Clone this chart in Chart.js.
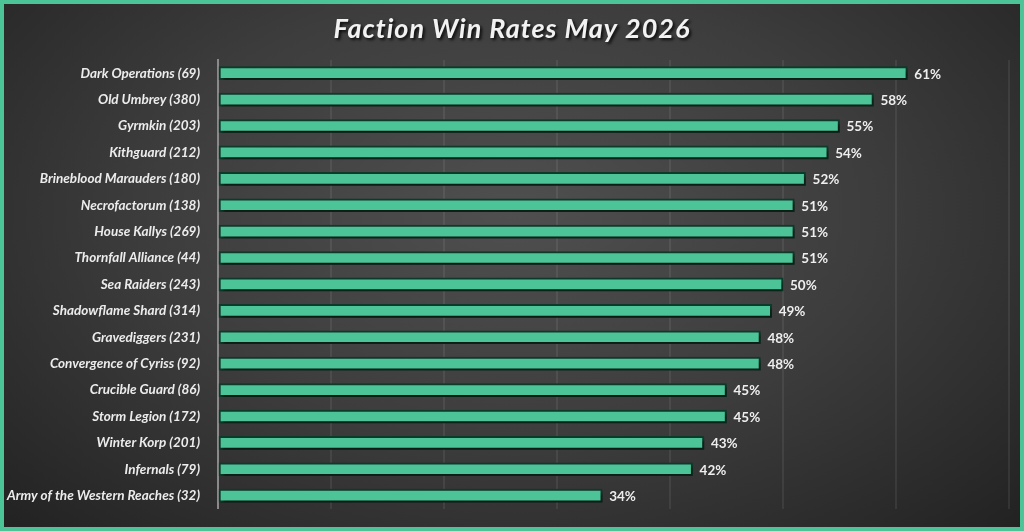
<!DOCTYPE html>
<html>
<head>
<meta charset="utf-8">
<script src="https://cdn.jsdelivr.net/npm/chart.js@4.4.1/dist/chart.umd.min.js"></script>
<style>
  html, body { margin: 0; padding: 0; }
  #wrap {
    width: 1024px; height: 531px; box-sizing: border-box;
    border: 4px solid #4cc497;
    background: radial-gradient(ellipse at 50% 40%, #4f4f4f 0%, #3d3d3d 50%, #222222 100%);
  }
  #wrap canvas { display: block; }
</style>
</head>
<body>
<div id="wrap"><canvas id="winrates" width="1016" height="523"></canvas></div>
<script>
// factions (with game counts) and their win rates in %
var factions = [
    "Dark Operations (69)",
    "Old Umbrey (380)",
    "Gyrmkin (203)",
    "Kithguard (212)",
    "Brineblood Marauders (180)",
    "Necrofactorum (138)",
    "House Kallys (269)",
    "Thornfall Alliance (44)",
    "Sea Raiders (243)",
    "Shadowflame Shard (314)",
    "Gravediggers (231)",
    "Convergence of Cyriss (92)",
    "Crucible Guard (86)",
    "Storm Legion (172)",
    "Winter Korp (201)",
    "Infernals (79)",
    "Army of the Western Reaches (32)"
];
var winRates = [61, 58, 55, 54, 52, 51, 51, 51, 50, 49, 48, 48, 45, 45, 43, 42, 34];
var chartTitle = "Faction Win Rates May 2026";

var labelFont = "Lato, 'Open Sans', sans-serif";

// title with a drop shadow
var titlePlugin = {
    id: 'shadowTitle',
    afterDraw: function (chart) {
        var c = chart.ctx;
        c.save();
        c.font = "italic bold 27px " + labelFont;
        c.letterSpacing = '1px';
        c.textAlign = 'center';
        c.textBaseline = 'middle';
        c.shadowColor = 'rgba(0,0,0,0.8)';
        c.shadowOffsetX = 2;
        c.shadowOffsetY = 2;
        c.shadowBlur = 3;
        c.fillStyle = '#f2f2f2';
        c.fillText(chartTitle, chart.width / 2, 25);
        c.restore();
    }
};

// shadow under the bars
var barShadow = {
    id: 'barShadow',
    beforeDatasetsDraw: function (chart) {
        var c = chart.ctx;
        c.save();
        c.shadowColor = 'rgba(0,0,0,0.55)';
        c.shadowOffsetX = 2;
        c.shadowOffsetY = 3;
        c.shadowBlur = 3;
    },
    afterDatasetsDraw: function (chart) {
        chart.ctx.restore();
    }
};

// "61%" labels at the end of each bar
var valueLabels = {
    id: 'valueLabels',
    afterDatasetsDraw: function (chart) {
        var c = chart.ctx;
        var meta = chart.getDatasetMeta(0);
        c.save();
        c.font = "bold 13.5px " + labelFont;
        c.fillStyle = '#eeeeee';
        c.textAlign = 'left';
        c.textBaseline = 'middle';
        meta.data.forEach(function (bar, i) {
            c.fillText(winRates[i] + '%', bar.x + 7, bar.y + 1);
        });
        c.restore();
    }
};

var ctx = document.getElementById('winrates').getContext('2d');
var chart = new Chart(ctx, {
    type: 'bar',
    data: {
        labels: factions,
        datasets: [{
            label: "Win rate",
            data: winRates,
            backgroundColor: '#4cc497',
            borderColor: '#0c3a2b',
            borderWidth: 2,
            borderSkipped: false,
            barThickness: 13
        }]
    },
    options: {
        indexAxis: 'y',
        responsive: false,
        animation: false,
        layout: { padding: { top: 56, right: 11, bottom: 12, left: 0 } },
        plugins: {
            legend: { display: false },
            tooltip: { enabled: false }
        },
        scales: {
            x: {
                min: 0,
                max: 70,
                afterFit: function (scale) { scale.height = 0; },
                ticks: { display: false, stepSize: 10 },
                grid: { color: 'rgba(255,255,255,0.07)', lineWidth: 2, drawTicks: false },
                border: { display: false }
            },
            y: {
                afterFit: function (scale) { scale.width = 214; },
                ticks: {
                    color: '#ececec',
                    padding: 10,
                    font: { family: labelFont, size: 13.5, style: 'italic', weight: 'bold' }
                },
                grid: { display: false },
                border: { display: true, color: '#8a8a8a', width: 2 }
            }
        }
    },
    plugins: [barShadow, valueLabels, titlePlugin]
});
</script>
</body>
</html>
